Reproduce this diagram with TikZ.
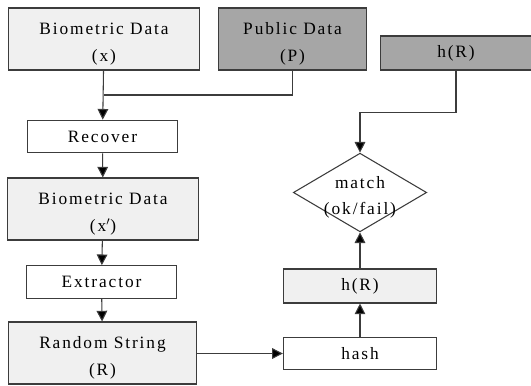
\documentclass[tikz,border=0pt]{standalone}
\usepackage{fontspec}
\setmainfont[LetterSpace=11]{Liberation Serif}
\usetikzlibrary{positioning, arrows.meta, shapes.geometric}
\definecolor{bxline}{HTML}{3C3C3C}
\definecolor{bxlight}{HTML}{F0F0F0}
\definecolor{bxdark}{HTML}{A6A6A6}
% taller first line, so two-line labels sit a little lower in their box
\newcommand{\lift}{\rule{0pt}{16.5pt}}

\begin{document}
\begin{tikzpicture}[
    x=0.75pt, y=-0.75pt,
    font=\fontsize{13}{20}\selectfont,
    % ---- shared styles ---------------------------------------------------
    box/.style={draw=bxline, line width=0.8pt, inner sep=0pt, align=center},
    bigbox/.style={box, fill=bxlight, minimum width=143pt, minimum height=46.5pt},
    stepbox/.style={box, fill=white, minimum width=112pt, minimum height=24.5pt},
    pubbox/.style={box, fill=bxdark, minimum height=46.5pt},
    hashbox/.style={box, minimum width=115pt},
    check/.style={diamond, draw=bxline, line width=0.8pt, fill=white,
                  inner sep=0pt, minimum width=100pt, minimum height=59pt},
    wire/.style={draw=bxline, line width=0.8pt},
    arr/.style={wire, -{Triangle[length=8pt, width=8pt, fill=black]}},
  ]
\useasboundingbox (0,0) rectangle (531,385);

% ---- left column: enrolment data down to the random string --------------
\node[bigbox] (bio)  at (104,39)    {\lift Biometric Data\\(x)};
\node[pubbox, minimum width=111.5pt] (pub) at (292.5,39) {\lift Public Data\\(P)};
\node[stepbox] (rec) at (102.5,136.5) {Recover};
\node[bigbox] (bio2) at (103,209)  {\lift Biometric Data\\(x$'$)};
\node[stepbox] (ext) at (101.5,282) {Extractor};
\node[bigbox, minimum width=141pt] (rand) at (102.5,353) {\lift Random String\\(R)};

% ---- right column: hashing and the match test ---------------------------
\node[pubbox, minimum width=113pt, minimum height=25.5pt] (hrtop) at (456,53) {h(R)};
\node[check] (match) at (360,192.5) {};
\node[align=center, inner sep=0pt] (matchtxt) at (match) {\lift match\\(ok/fail)};
\node[hashbox, fill=bxlight, minimum height=25.5pt] (hr)   at (360,286) {h(R)};
\node[hashbox, fill=white, minimum height=23.5pt]   (hash) at (360,353.5) {hash};

% ---- connectors ----------------------------------------------------------
\coordinate (merge) at (104,95);
\draw[wire] (pub.south) |- (merge);
\draw[arr] (bio) -- (rec);
\draw[arr] (rec) -- (bio2);
\draw[arr] (bio2) -- (ext);
\draw[arr] (ext) -- (rand);
\draw[arr] (rand.east |- hash) -- (hash);
\draw[arr] (hash) -- (hr);
\draw[arr] (hr) -- (match.south);
\draw[arr] (hrtop.south) -- ++(0,42) -| (match.north);

\end{tikzpicture}
\end{document}
